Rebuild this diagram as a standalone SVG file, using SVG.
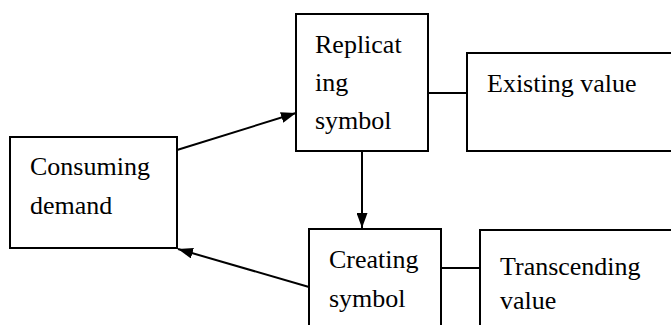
<svg xmlns="http://www.w3.org/2000/svg" width="671" height="325" viewBox="0 0 671 325">
<style>
.box{fill:#fff;stroke:#000;stroke-width:2}
.t{font-size:26px;fill:#000}
.c{stroke:#000;stroke-width:2;fill:none}
</style>
<defs>
<marker id="ah" viewBox="0 0 15 11" refX="15" refY="5.5" markerWidth="15" markerHeight="11" markerUnits="userSpaceOnUse" orient="auto">
<path d="M0,0 L15,5.5 L0,11 Z" fill="#000"/>
</marker>
</defs>
<rect width="671" height="325" fill="#fff"/>
<g id="connectors">
<line class="c" x1="177" y1="150" x2="296" y2="113" marker-end="url(#ah)"/>
<line class="c" x1="362" y1="151" x2="362" y2="228" marker-end="url(#ah)"/>
<line class="c" x1="309" y1="287" x2="178" y2="249" marker-end="url(#ah)"/>
<line class="c" x1="428" y1="93" x2="467" y2="93"/>
<line class="c" x1="441" y1="268" x2="480" y2="268"/>
</g>
<g font-family="'Liberation Serif', 'Times New Roman', 'DejaVu Serif', serif">
<g id="consuming">
<rect class="box" x="10" y="137" width="167" height="111"/>
<text class="t" x="30" y="175">Consuming</text>
<text class="t" x="30" y="214">demand</text>
</g>
<g id="replicating">
<rect class="box" x="296" y="14" width="132" height="137"/>
<text class="t" x="315" y="53">Replicat</text>
<text class="t" x="315" y="91">ing</text>
<text class="t" x="315" y="129">symbol</text>
</g>
<g id="existing">
<rect class="box" x="467" y="53" width="210" height="98"/>
<text class="t" x="487" y="92">Existing value</text>
</g>
<g id="creating">
<rect class="box" x="309" y="229" width="132" height="110"/>
<text class="t" x="329" y="268">Creating</text>
<text class="t" x="329" y="307">symbol</text>
</g>
<g id="transcending">
<rect class="box" x="480" y="230" width="210" height="110"/>
<text class="t" x="500" y="275">Transcending</text>
<text class="t" x="500" y="309">value</text>
</g>
</g>
</svg>
